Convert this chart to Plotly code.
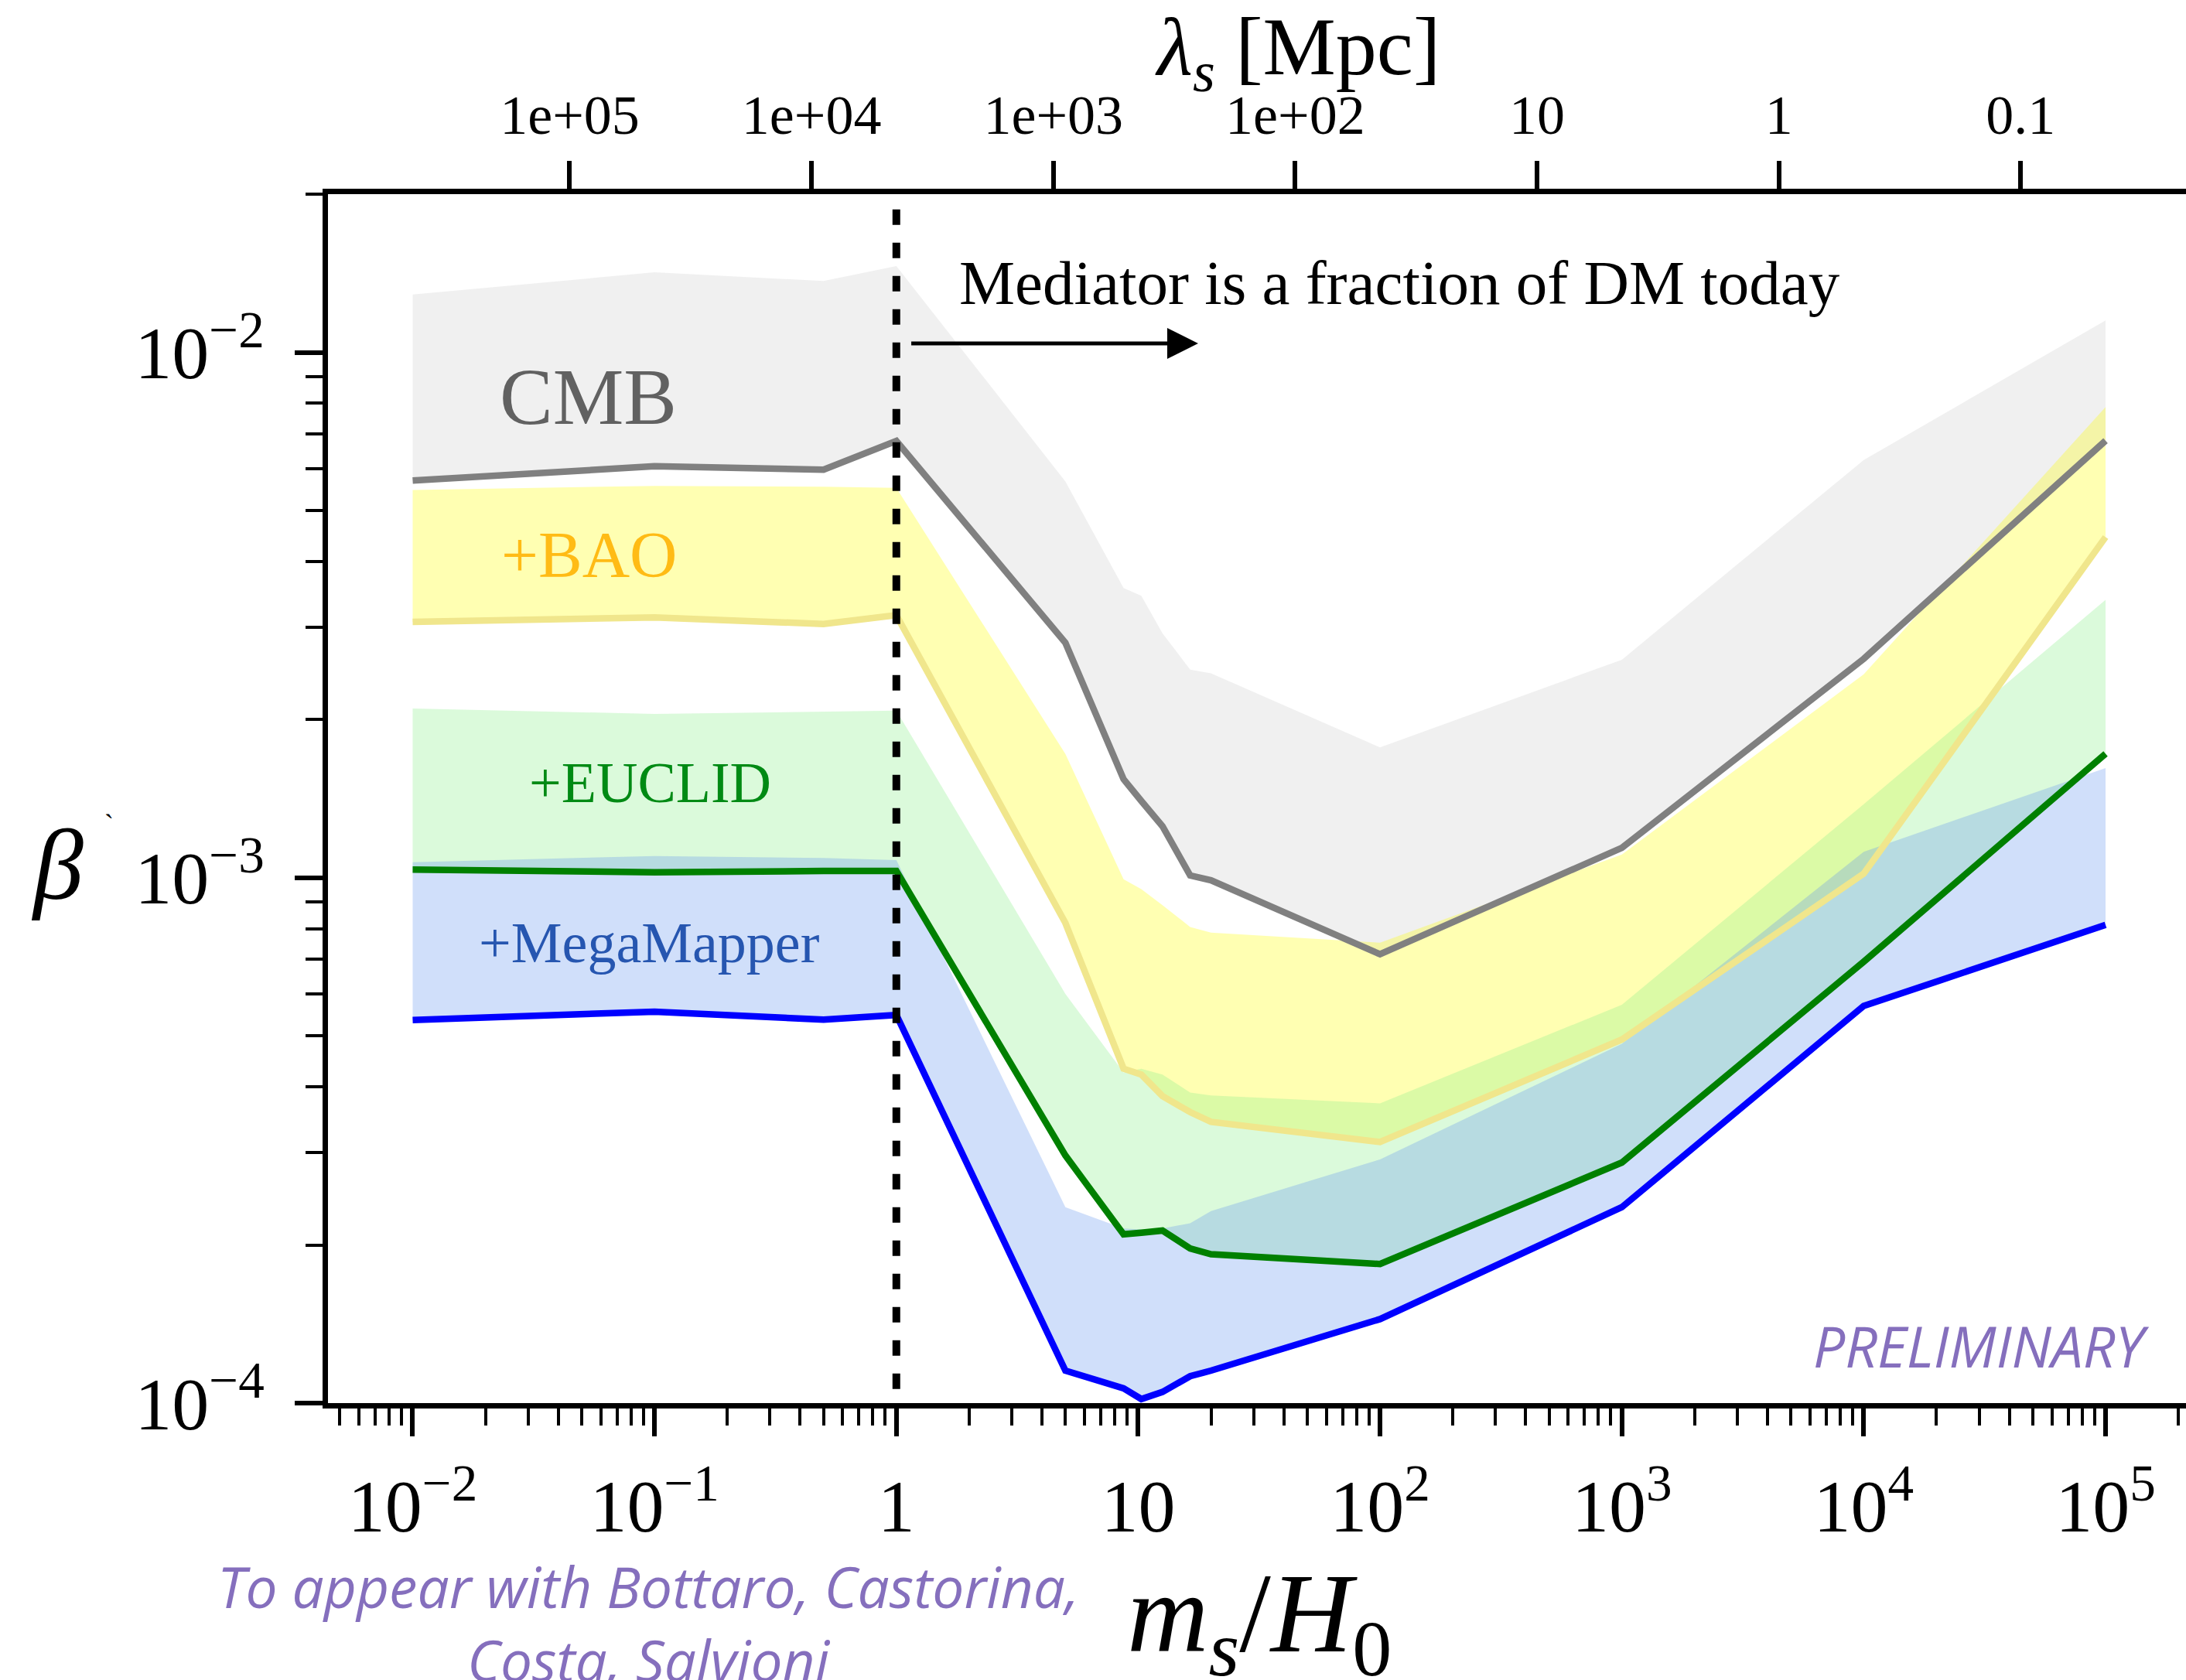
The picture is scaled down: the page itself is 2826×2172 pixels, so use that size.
import math
import plotly.graph_objects as go

# ---------------------------------------------------------------- data
# sampling points in m_s / H_0
m_grid = [0.01, 0.1, 0.5, 1, 5, 8.7, 10.3, 12.6, 16.4, 20, 100, 1e3, 1e4, 1e5]

# lower edge (solid line) and upper edge of each forecast band, beta
cmb_low = [5.70e-3, 6.07e-3, 5.98e-3, 6.78e-3, 2.80e-3, 1.54e-3, 1.40e-3,
           1.253e-3, 1.01e-3, 9.89e-4, 7.15e-4, 1.14e-3, 2.61e-3, 6.79e-3]
cmb_up = [1.288e-2, 1.42e-2, 1.367e-2, 1.46e-2, 5.68e-3, 3.56e-3, 3.44e-3,
          2.92e-3, 2.49e-3, 2.45e-3, 1.77e-3, 2.60e-3, 6.24e-3, 1.15e-2]

bao_low = [3.07e-3, 3.13e-3, 3.04e-3, 3.16e-3, 8.20e-4, 4.33e-4, 4.22e-4,
           3.84e-4, 3.58e-4, 3.43e-4, 3.14e-4, 4.92e-4, 1.018e-3, 4.45e-3]
bao_up = [5.47e-3, 5.57e-3, 5.55e-3, 5.52e-3, 1.72e-3, 9.93e-4, 9.51e-4,
          8.87e-4, 8.06e-4, 7.86e-4, 7.52e-4, 1.107e-3, 2.44e-3, 7.87e-3]

euclid_low = [1.036e-3, 1.024e-3, 1.03e-3, 1.03e-3, 2.96e-4, 2.095e-4, 2.11e-4,
              2.13e-4, 1.97e-4, 1.92e-4, 1.84e-4, 2.87e-4, 6.92e-4, 1.722e-3]
euclid_up = [2.10e-3, 2.05e-3, 2.07e-3, 2.08e-3, 6.01e-4, 4.26e-4, 4.33e-4,
             4.22e-4, 3.90e-4, 3.85e-4, 3.72e-4, 5.73e-4, 1.38e-3, 3.38e-3]

mm_low = [5.36e-4, 5.56e-4, 5.37e-4, 5.48e-4, 1.153e-4, 1.067e-4, 1.018e-4,
          1.05e-4, 1.125e-4, 1.153e-4, 1.445e-4, 2.36e-4, 5.70e-4, 8.13e-4]
mm_up = [1.07e-3, 1.10e-3, 1.09e-3, 1.08e-3, 2.36e-4, 2.15e-4, 2.14e-4,
         2.15e-4, 2.20e-4, 2.32e-4, 2.91e-4, 4.83e-4, 1.12e-3, 1.617e-3]

# axis ticks
x_tickvals = [1e-2, 1e-1, 1, 10, 1e2, 1e3, 1e4, 1e5]
x_ticktext = ["10<sup>−2</sup>", "10<sup>−1</sup>", "1", "10",
              "10<sup>2</sup>", "10<sup>3</sup>", "10<sup>4</sup>", "10<sup>5</sup>"]
y_tickvals = [1e-4, 1e-3, 1e-2]
y_ticktext = ["10<sup>−4</sup>", "10<sup>−3</sup>", "10<sup>−2</sup>"]
lam_tickvals = [1e5, 1e4, 1e3, 1e2, 10, 1, 0.1]
lam_ticktext = ["1e+05", "1e+04", "1e+03", "1e+02", "10", "1", "0.1"]

# transition mass and direction arrow
m_transition = 1
arrow_m = [1.14, 17.7]
arrow_beta = 0.0104
dash_beta = [0.0187, 1e-4]

# ---------------------------------------------------------------- layout geometry
W, H = 2826, 2172
L, T, B = 424, 251, 358
PW, PH = W - L, H - T - B


def px(X):
    return (X - L) / PW


def py(Y):
    return (H - B - Y) / PH


x_range = [-2.3502, 5.3326]
# lambda_s [Mpc] scale: log10(lambda) = 3.6492 - log10(m_s/H0)
lam_offset = 3.6492
x2_range = [lam_offset - x_range[0], lam_offset - x_range[1]]
y_range = [-4, -1.6989]

SERIF = "Liberation Serif"
LINE_W = 8.5

bands = [
    (cmb_low, cmb_up, "rgba(128,128,128,0.12)", "#808080"),
    (bao_low, bao_up, "rgba(255,255,0,0.30)", "#f0e68c"),
    (euclid_low, euclid_up, "rgba(144,238,144,0.32)", "#008000"),
    (mm_low, mm_up, "rgba(100,149,237,0.30)", "#0000ff"),
]

fig = go.Figure()

# shaded bands
for low, up, fill, _ in bands:
    fig.add_trace(go.Scatter(
        x=m_grid + m_grid[::-1], y=low + up[::-1],
        mode="lines", fill="toself", fillcolor=fill,
        line=dict(width=0), hoverinfo="skip", showlegend=False))

# lower-edge lines
for low, _, _, col in bands:
    fig.add_trace(go.Scatter(
        x=m_grid, y=low, mode="lines",
        line=dict(color=col, width=LINE_W), showlegend=False))

# m_s = H_0 divider
fig.add_trace(go.Scatter(
    x=[m_transition, m_transition], y=dash_beta, mode="lines",
    line=dict(color="black", width=10, dash="20px,23px"), showlegend=False))

# dummy trace carrying the lambda_s axis
fig.add_trace(go.Scatter(
    x=[1e3], y=[1e-3], xaxis="x2", mode="markers",
    marker=dict(opacity=0), hoverinfo="skip", showlegend=False))

x_minor = [k * 10.0 ** e for e in range(-3, 6) for k in range(2, 10)]
y_minor = [k * 10.0 ** e for e in range(-4, -1) for k in range(2, 10)]

fig.update_layout(
    width=W, height=H,
    margin=dict(l=L, r=0, t=T, b=B, pad=0),
    paper_bgcolor="white", plot_bgcolor="white",
    showlegend=False,
    font=dict(family=SERIF, color="black"),
    xaxis=dict(
        type="log", range=x_range, automargin=False,
        showgrid=False, zeroline=False,
        showline=True, linecolor="black", linewidth=7,
        ticks="outside", ticklen=36, tickwidth=5.5, tickcolor="black",
        tickmode="array", tickvals=x_tickvals, ticktext=x_ticktext,
        tickfont=dict(family=SERIF, size=96, color="black"),
        ticklabelstandoff=8,
        minor=dict(ticks="outside", ticklen=22, tickwidth=4,
                   tickcolor="black", tickmode="array", tickvals=x_minor,
                   showgrid=False),
    ),
    xaxis2=dict(
        type="log", range=x2_range, overlaying="x", side="top",
        anchor="y", automargin=False,
        showgrid=False, zeroline=False,
        showline=True, linecolor="black", linewidth=7,
        ticks="outside", ticklen=36, tickwidth=5.5, tickcolor="black",
        tickmode="array", tickvals=lam_tickvals, ticktext=lam_ticktext,
        tickfont=dict(family=SERIF, size=72, color="black"),
        ticklabelstandoff=6,
    ),
    yaxis=dict(
        type="log", range=y_range, automargin=False,
        showgrid=False, zeroline=False,
        showline=True, linecolor="black", linewidth=7,
        ticks="outside", ticklen=36, tickwidth=5.5, tickcolor="black",
        tickmode="array", tickvals=y_tickvals, ticktext=y_ticktext,
        tickfont=dict(family=SERIF, size=96, color="black"),
        ticklabelstandoff=20,
        minor=dict(ticks="outside", ticklen=22, tickwidth=4,
                   tickcolor="black", tickmode="array", tickvals=y_minor,
                   showgrid=False),
    ),
)


def label(text, X, Y, size, color="black", family=SERIF,
          xanchor="center", yanchor="middle"):
    fig.add_annotation(
        text=text, x=px(X), y=py(Y), xref="paper", yref="paper",
        xanchor=xanchor, yanchor=yanchor, showarrow=False,
        font=dict(family=family, size=size, color=color))


# axis titles
label("<i>λ</i><sub><i>s</i></sub> [Mpc]", 1677, 0, 106, yanchor="top")
label("<i>m</i><sub><i>s</i></sub>/<i>H</i><sub>0</sub>", 1628, 2096, 146)
label("<i>β</i>", 74, 1118, 130)
label("`", 141, 1066, 36)

# band labels
label("CMB", 760, 513, 103, color="#616161")
label("+BAO", 761, 717, 85, color="#ffbb15")
label("+EUCLID", 840, 1012, 74, color="#008a14")
label("+MegaMapper", 839, 1219, 74, color="#2656b0")

# regime note
label("Mediator is a fraction of DM today", 1238, 366, 81, xanchor="left")
fig.add_annotation(
    x=math.log10(arrow_m[1]), y=math.log10(arrow_beta),
    ax=math.log10(arrow_m[0]), ay=math.log10(arrow_beta),
    xref="x", yref="y", axref="x", ayref="y",
    text="", showarrow=True, arrowhead=2, arrowsize=1.6,
    arrowwidth=5, arrowcolor="black", standoff=0, startstandoff=0)

# status notes
PURPLE = "#856fbd"
label("<i>PRELIMINARY</i>", 2561, 1739, 73, color=PURPLE, family="Open Sans")
label("<i>To appear with Bottaro, Castorina,<br>Costa, Salvioni</i>",
      838, 2098, 73, color=PURPLE, family="Open Sans")

fig.write_html("out.html")
